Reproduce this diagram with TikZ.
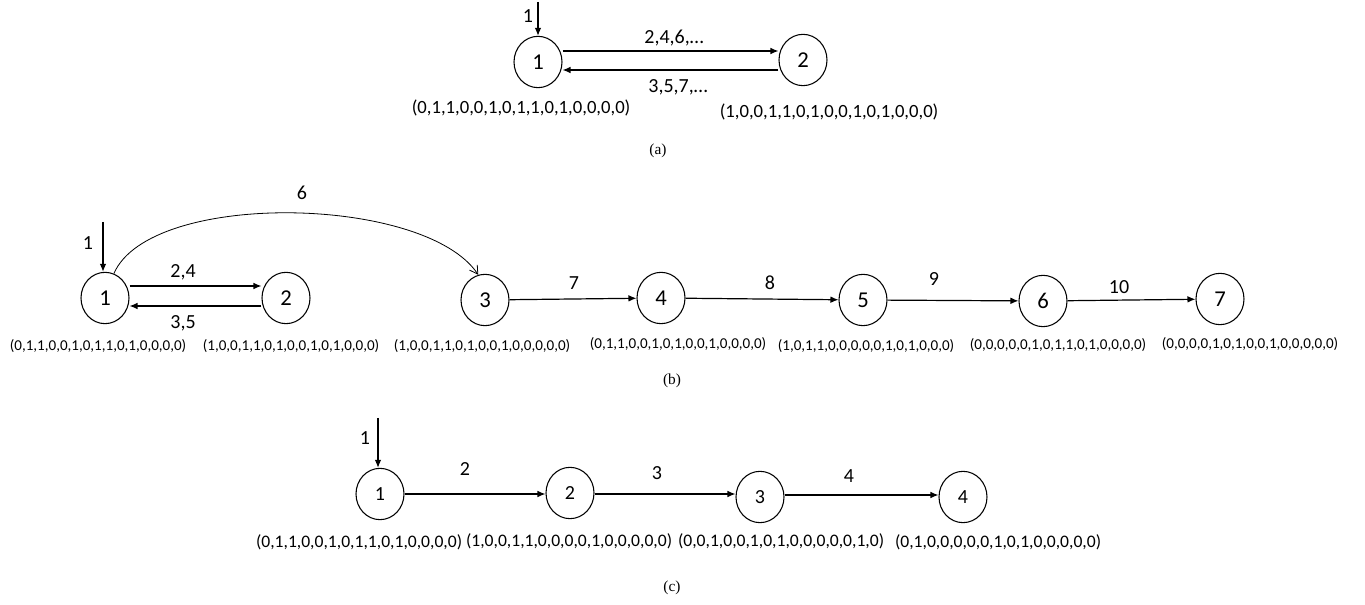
\documentclass[tikz,border=0pt]{standalone}
\usepackage{fontspec}
\setmainfont{Carlito}
\newfontfamily\capfont{Liberation Serif}
\usetikzlibrary{shapes.geometric,arrows.meta}
\tikzset{
  state/.style={draw,ellipse,line width=0.8pt,minimum width=36pt,minimum height=38.5pt,inner sep=0pt,font=\fontsize{17}{17}\selectfont},
  smallstate/.style={state,font=\fontsize{15}{15}\selectfont},
  arr/.style={line width=0.9pt,-{Latex[length=6pt,width=5pt]}},
  thinarr/.style={line width=0.6pt,-{Straight Barb[length=6pt,width=7pt]}},
  elab/.style={font=\fontsize{15}{15}\selectfont,inner sep=0pt},
  tupa/.style={font=\fontsize{14}{14}\selectfont,inner sep=0pt},
  tupb/.style={font=\fontsize{11.3}{12}\selectfont,inner sep=0pt},
  tupc/.style={font=\fontsize{13.2}{14}\selectfont,inner sep=0pt},
  caption/.style={font=\capfont\fontsize{11.5}{12}\selectfont,inner sep=0pt}
}
\begin{document}
\begin{tikzpicture}[x=0.75pt,y=-0.75pt]
\useasboundingbox (0,0) rectangle (1365,605);

% ---------- (a) ----------
\node[state] (a1) at (538,62) {1};
\node[state] (a2) at (803,60) {2};
\coordinate (a0) at (538,2);
\draw[arr] (a0) -- (a1.north);
\node[elab] (la0) at (528,16) {1};
\draw[arr] (a1.east |- 0,51) -- (a2.west |- 0,51);
\draw[arr] (a2.west |- 0,70) -- (a1.east |- 0,70);
\node[elab] (la1) at (674,38) {2,4,6,\ldots};
\node[elab] (la2) at (678,87) {3,5,7,\ldots};
\node[tupa] (ta1) at (521,108) {(0,1,1,0,0,1,0,1,1,0,1,0,0,0,0)};
\node[tupa] (ta2) at (829,112) {(1,0,0,1,1,0,1,0,0,1,0,1,0,0,0)};
\node[caption] (capa) at (658,151) {(a)};

% ---------- (b) ----------
\node[state] (b1) at (105,298) {1};
\node[state] (b2) at (286,298) {2};
\node[state] (b3) at (485,300) {3};
\node[state] (b4) at (661,298) {4};
\node[state] (b5) at (863,300) {5};
\node[state] (b6) at (1043,301) {6};
\node[state] (b7) at (1220,299) {7};
\coordinate (b0) at (103,222);
\draw[arr] (b0) -- (b1.north -| b0);
\node[elab] (lb0) at (88,243) {1};
\draw[arr] (b1.east |- 0,286) -- (b2.west |- 0,286);
\draw[arr] (b2.west |- 0,306) -- (b1.east |- 0,306);
\node[elab] (lb1) at (183,272) {2,4};
\node[elab] (lb2) at (183,323) {3,5};
\draw[thinarr] (b1.70) .. controls (150,190) and (425,195) .. (b3.105);
\node[elab] (lb3) at (302,193) {6};
\draw[arr] (b3) -- (b4);
\draw[arr] (b4) -- (b5);
\draw[arr] (b5) -- (b6);
\draw[arr] (b6) -- (b7);
\node[elab] (lb4) at (574,283) {7};
\node[elab] (lb5) at (770,283) {8};
\node[elab] (lb6) at (934,279) {9};
\node[elab] (lb7) at (1119,287) {10};
\node[tupb] (tb1) at (98,346) {(0,1,1,0,0,1,0,1,1,0,1,0,0,0,0)};
\node[tupb] (tb2) at (291,346) {(1,0,0,1,1,0,1,0,0,1,0,1,0,0,0)};
\node[tupb] (tb3) at (482,346) {(1,0,0,1,1,0,1,0,0,1,0,0,0,0,0)};
\node[tupb] (tb4) at (678,344) {(0,1,1,0,0,1,0,1,0,0,1,0,0,0,0)};
\node[tupb] (tb5) at (866,346) {(1,0,1,1,0,0,0,0,0,1,0,1,0,0,0)};
\node[tupb] (tb6) at (1058,345) {(0,0,0,0,0,1,0,1,1,0,1,0,0,0,0)};
\node[tupb] (tb7) at (1250,344) {(0,0,0,0,1,0,1,0,0,1,0,0,0,0,0)};
\node[caption] (capb) at (672,381) {(b)};

% ---------- (c) ----------
\node[smallstate] (c1) at (380,494) {1};
\node[smallstate] (c2) at (570,493) {2};
\node[smallstate] (c3) at (760,497) {3};
\node[smallstate] (c4) at (963,497) {4};
\coordinate (c0) at (378,418);
\draw[arr] (c0) -- (c1.north -| c0);
\node[elab] (lc0) at (365,438) {1};
\draw[arr] (c1.east |- 0,494) -- (c2.west |- 0,494);
\draw[arr] (c2.east |- 0,494) -- (c3.west |- 0,494);
\draw[arr] (c3.east |- 0,495) -- (c4.west |- 0,495);
\node[elab] (lc1) at (465,469) {2};
\node[elab] (lc2) at (657,473) {3};
\node[elab] (lc3) at (849,476) {4};
\node[tupc] (tc1) at (359,542) {(0,1,1,0,0,1,0,1,1,0,1,0,0,0,0)};
\node[tupc] (tc2) at (569,541) {(1,0,0,1,1,0,0,0,0,1,0,0,0,0,0)};
\node[tupc] (tc3) at (781,541) {(0,0,1,0,0,1,0,1,0,0,0,0,0,1,0)};
\node[tupc] (tc4) at (998,542) {(0,1,0,0,0,0,0,1,0,1,0,0,0,0,0)};
\node[caption] (capc) at (672,588) {(c)};
\end{tikzpicture}
\end{document}
